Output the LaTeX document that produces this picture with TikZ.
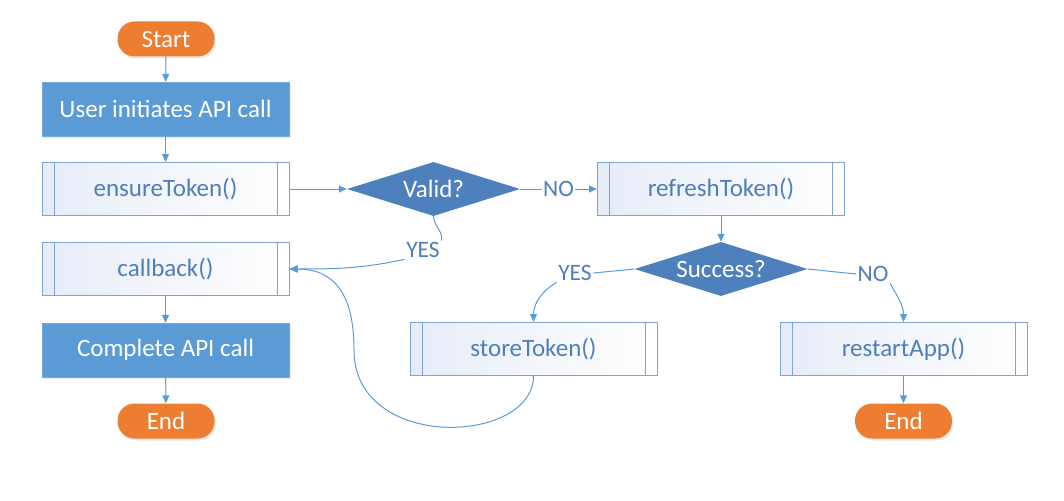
\documentclass[tikz,border=0pt]{standalone}
\usepackage{fontspec}
\setmainfont{Carlito}
\usetikzlibrary{arrows.meta,shapes.geometric,shadows}
\definecolor{procblue}{HTML}{5B9BD5}
\definecolor{procedge}{HTML}{76AADB}
\definecolor{diablue}{HTML}{4D80BD}
\definecolor{termorange}{HTML}{ED7D31}
\definecolor{subedge}{HTML}{7FA4D0}
\definecolor{subfill}{HTML}{E6ECF7}
\definecolor{txtblue}{HTML}{4E7FBB}
\definecolor{linkblue}{HTML}{5B9BD5}
\tikzset{
  every node/.style={font=\fontsize{25}{30}\selectfont},
  term/.style={rectangle, rounded corners=17pt, fill=termorange, text=white,
    minimum width=97pt, minimum height=35pt, inner sep=0pt,
    drop shadow={opacity=0.18, shadow xshift=1.5pt, shadow yshift=-2pt}},
  proc/.style={rectangle, fill=procblue, draw=procedge, text=white,
    minimum width=247pt, minimum height=54pt, inner sep=0pt,
    drop shadow={opacity=0.15, shadow xshift=1.5pt, shadow yshift=-2pt}},
  subproc/.style={rectangle, draw=subedge, line width=1pt, text=txtblue,
    left color=subfill, right color=white,
    minimum width=247pt, minimum height=53pt, inner sep=0pt,
    path picture={
      \draw[subedge, line width=1pt]
        ([xshift=12pt]path picture bounding box.north west) --
        ([xshift=12pt]path picture bounding box.south west)
        ([xshift=-12pt]path picture bounding box.north east) --
        ([xshift=-12pt]path picture bounding box.south east);}},
  decide/.style={diamond, shape aspect=3.2, fill=diablue, text=white, inner sep=0pt,
    text height=17pt, text depth=1pt,
    minimum width=173pt, minimum height=54pt},
  lab/.style={text=txtblue, fill=white, inner sep=1.5pt,
    font=\fontsize{23.5}{28}\selectfont},
  link/.style={draw=linkblue, line width=1pt},
  arr/.style={link, -{Triangle[length=8pt,width=7pt]}},
}
\begin{document}
\begin{tikzpicture}[x=1pt,y=-1pt]
\useasboundingbox (0,0) rectangle (1064,500);
\node[term] (start) at (166,39) {Start};
\node[proc] (user) at (165.5,109) {User initiates API call};
\node[subproc] (ensure) at (165.5,189) {ensureToken()};
\node[subproc] (callback) at (165.5,269) {callback()};
\node[proc] (complete) at (165.5,350) {Complete API call};
\node[term] (endA) at (166,421) {End};

\node[decide] (valid) at (433.5,189) {Valid?};
\node[subproc] (refresh) at (721,189) {refreshToken()};
\node[decide] (success) at (721,269) {Success?};
\node[subproc] (store) at (533.5,349) {storeToken()};
\node[subproc] (restart) at (903.5,349) {restartApp()};
\node[term] (endB) at (903.5,421) {End};

\node[lab] (yesA) at (423,250) {YES};
\node[lab] (yesB) at (575,273) {YES};
\node[lab] (noB) at (873,274) {NO};

\draw[arr] (start) -- (user);
\draw[arr] (user) -- (ensure);
\draw[arr] (ensure) -- (valid);
\draw[arr] (valid) -- node[lab] {NO} (refresh);
\draw[arr] (callback) -- (complete);
\draw[arr] (complete) -- (endA);
\draw[arr] (refresh) -- (success);
\draw[arr] (restart) -- (endB);

\draw[link] (valid.south) to[out=-88,in=80] (yesA.north east);
\draw[arr] (yesA.south west) to[out=192,in=0] (callback.east);
\draw[link] (success.west) -- (yesB.east);
\draw[arr] (yesB.south west) to[out=210,in=90] (store.north);
\draw[link] (success.east) -- (noB.west);
\draw[arr] (noB.south east) to[out=-60,in=90] (restart.north);
\draw[arr] (store.south) .. controls (533,445) and (354,452) .. (354,350)
  .. controls (354,295) and (335,269) .. (callback.east);
\end{tikzpicture}
\end{document}
